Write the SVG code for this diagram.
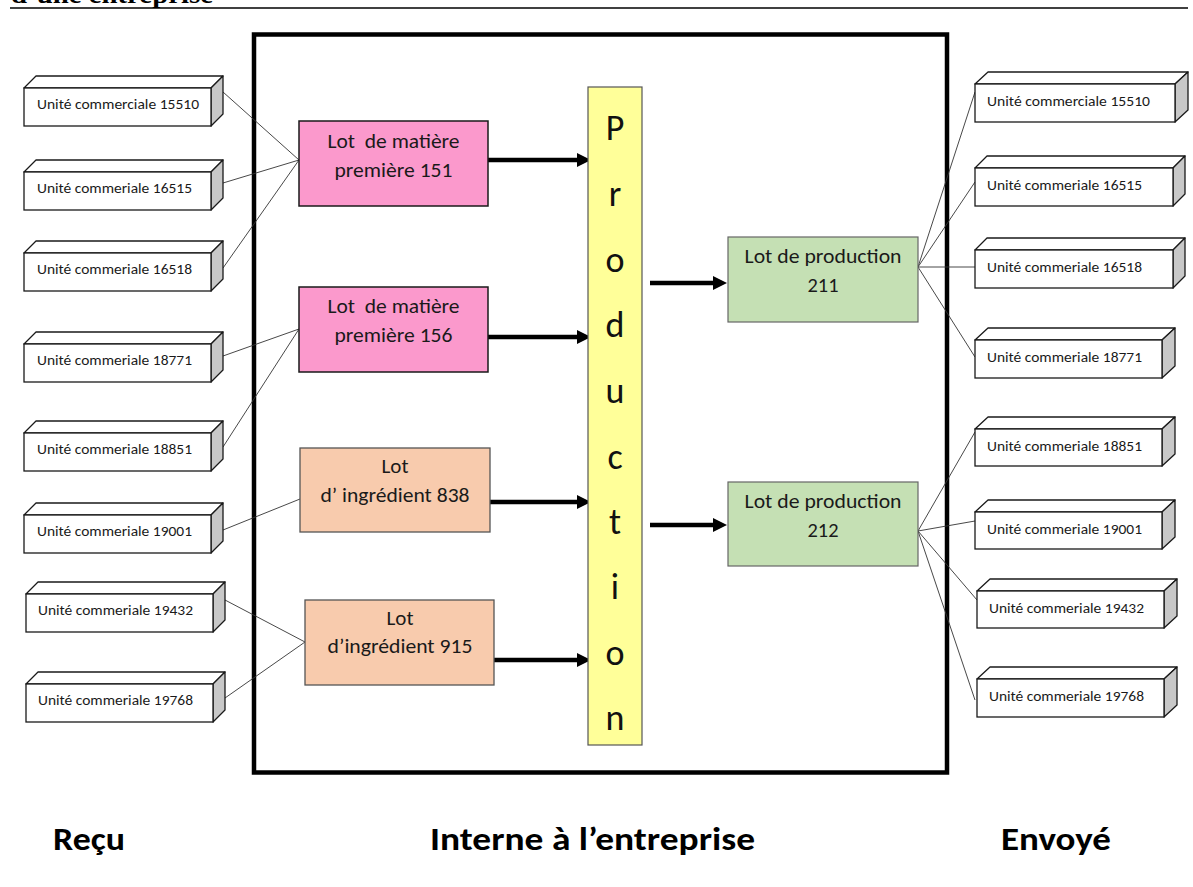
<svg xmlns="http://www.w3.org/2000/svg" width="1193" height="887" viewBox="0 0 1193 887">
<defs>
<style>
.top{fill:#ffffff;stroke:#1a1a1a;stroke-width:1.3;stroke-linejoin:round}
.side{fill:#c8c8c8;stroke:#1a1a1a;stroke-width:1.3;stroke-linejoin:round}
.front{fill:#ffffff;stroke:#1a1a1a;stroke-width:1.3}
.lbl{font-family:Carlito,Lato,"Liberation Sans",sans-serif;font-size:14px;fill:#1a1a1a}
.big{font-family:Carlito,Lato,"Liberation Sans",sans-serif;font-size:20px;fill:#1a1a1a;text-anchor:middle;white-space:pre}
.pink{fill:#fb99cc;stroke:#1a1a1a;stroke-width:1.5}
.orange{fill:#f8cbad;stroke:#555555;stroke-width:1.3}
.green{fill:#c5e0b4;stroke:#666666;stroke-width:1.2}
.link{stroke:#333333;stroke-width:0.9;fill:none}
.arrow{stroke:#000000;stroke-width:4.5;fill:none}
.prod{font-family:Carlito,Lato,"Liberation Sans",sans-serif;font-size:36px;fill:#111111;text-anchor:middle}
.foot{font-family:Carlito,Lato,"Liberation Sans",sans-serif;font-size:33px;font-weight:bold;fill:#000000}
</style>
<marker id="ah" markerUnits="userSpaceOnUse" markerWidth="16" markerHeight="16" refX="2" refY="8" orient="auto">
<path d="M0,1 L14,8 L0,15 z" fill="#000000"/>
</marker>
</defs>
<rect x="0" y="0" width="1193" height="887" fill="#ffffff"/>
<g id="header">
<text x="11" y="3" font-family="Liberation Serif,serif" font-weight="bold" font-size="26" textLength="202" lengthAdjust="spacingAndGlyphs">d’une entreprise</text>
<line x1="10" y1="8" x2="1188" y2="8" stroke="#000000" stroke-width="1.6"/>
</g>
<g id="enterprise">
<rect x="254" y="34.5" width="693" height="738" fill="none" stroke="#000000" stroke-width="4.5"/>
</g>
<g id="connectors">
<line class="link" x1="223" y1="92" x2="299" y2="160"/>
<line class="link" x1="223" y1="183" x2="299" y2="160"/>
<line class="link" x1="223" y1="268" x2="299" y2="160"/>
<line class="link" x1="223" y1="356" x2="299" y2="329"/>
<line class="link" x1="223" y1="447" x2="299" y2="329"/>
<line class="link" x1="223" y1="530" x2="300" y2="499"/>
<line class="link" x1="225" y1="600" x2="305" y2="642"/>
<line class="link" x1="225" y1="698" x2="305" y2="642"/>
<line class="link" x1="918" y1="267" x2="975" y2="92"/>
<line class="link" x1="918" y1="267" x2="975" y2="182"/>
<line class="link" x1="918" y1="267" x2="975" y2="267"/>
<line class="link" x1="918" y1="267" x2="975" y2="357"/>
<line class="link" x1="918" y1="531" x2="975" y2="432"/>
<line class="link" x1="918" y1="531" x2="975" y2="521"/>
<line class="link" x1="918" y1="531" x2="977" y2="600"/>
<line class="link" x1="918" y1="531" x2="975" y2="700"/>
<line class="arrow" x1="488" y1="160" x2="579" y2="160" marker-end="url(#ah)"/>
<line class="arrow" x1="488" y1="337" x2="579" y2="337" marker-end="url(#ah)"/>
<line class="arrow" x1="490" y1="502" x2="579" y2="502" marker-end="url(#ah)"/>
<line class="arrow" x1="494" y1="660" x2="579" y2="660" marker-end="url(#ah)"/>
<line class="arrow" x1="650" y1="283" x2="715" y2="283" marker-end="url(#ah)"/>
<line class="arrow" x1="650" y1="525" x2="715" y2="525" marker-end="url(#ah)"/>
</g>
<g id="recu-15510">
<polygon class="top" points="24,88 36,76 223,76 211,88"/>
<polygon class="side" points="211,88 223,76 223,114 211,126"/>
<rect class="front" x="24" y="88" width="187" height="38"/>
<text class="lbl" x="37" y="109" textLength="162" lengthAdjust="spacingAndGlyphs">Unité commerciale 15510</text>
</g>
<g id="recu-16515">
<polygon class="top" points="24,172 36,160 223,160 211,172"/>
<polygon class="side" points="211,172 223,160 223,198 211,210"/>
<rect class="front" x="24" y="172" width="187" height="38"/>
<text class="lbl" x="37" y="193" textLength="155" lengthAdjust="spacingAndGlyphs">Unité commeriale 16515</text>
</g>
<g id="recu-16518">
<polygon class="top" points="24,253 36,241 223,241 211,253"/>
<polygon class="side" points="211,253 223,241 223,279 211,291"/>
<rect class="front" x="24" y="253" width="187" height="38"/>
<text class="lbl" x="37" y="274" textLength="155" lengthAdjust="spacingAndGlyphs">Unité commeriale 16518</text>
</g>
<g id="recu-18771">
<polygon class="top" points="24,344 36,332 223,332 211,344"/>
<polygon class="side" points="211,344 223,332 223,370 211,382"/>
<rect class="front" x="24" y="344" width="187" height="38"/>
<text class="lbl" x="37" y="365" textLength="155" lengthAdjust="spacingAndGlyphs">Unité commeriale 18771</text>
</g>
<g id="recu-18851">
<polygon class="top" points="24,433 36,421 223,421 211,433"/>
<polygon class="side" points="211,433 223,421 223,459 211,471"/>
<rect class="front" x="24" y="433" width="187" height="38"/>
<text class="lbl" x="37" y="454" textLength="155" lengthAdjust="spacingAndGlyphs">Unité commeriale 18851</text>
</g>
<g id="recu-19001">
<polygon class="top" points="24,515 36,503 223,503 211,515"/>
<polygon class="side" points="211,515 223,503 223,541 211,553"/>
<rect class="front" x="24" y="515" width="187" height="38"/>
<text class="lbl" x="37" y="536" textLength="155" lengthAdjust="spacingAndGlyphs">Unité commeriale 19001</text>
</g>
<g id="recu-19432">
<polygon class="top" points="26,594 38,582 225,582 213,594"/>
<polygon class="side" points="213,594 225,582 225,620 213,632"/>
<rect class="front" x="26" y="594" width="187" height="38"/>
<text class="lbl" x="38" y="615" textLength="155" lengthAdjust="spacingAndGlyphs">Unité commeriale 19432</text>
</g>
<g id="recu-19768">
<polygon class="top" points="26,684 38,672 225,672 213,684"/>
<polygon class="side" points="213,684 225,672 225,710 213,722"/>
<rect class="front" x="26" y="684" width="187" height="38"/>
<text class="lbl" x="38" y="705" textLength="155" lengthAdjust="spacingAndGlyphs">Unité commeriale 19768</text>
</g>
<g id="lot-mp-151">
<rect class="pink" x="299" y="121" width="189" height="85"/>
<text class="big" x="393.5" y="148" textLength="132" lengthAdjust="spacingAndGlyphs">Lot  de matière</text>
<text class="big" x="393.5" y="177" textLength="118" lengthAdjust="spacingAndGlyphs">première 151</text>
</g>
<g id="lot-mp-156">
<rect class="pink" x="299" y="287" width="189" height="85"/>
<text class="big" x="393.5" y="313" textLength="132" lengthAdjust="spacingAndGlyphs">Lot  de matière</text>
<text class="big" x="393.5" y="342" textLength="118" lengthAdjust="spacingAndGlyphs">première 156</text>
</g>
<g id="lot-ing-838">
<rect class="orange" x="300" y="448" width="190" height="84"/>
<text class="big" x="395" y="473" textLength="27" lengthAdjust="spacingAndGlyphs">Lot</text>
<text class="big" x="395" y="502" textLength="149" lengthAdjust="spacingAndGlyphs">d’ ingrédient 838</text>
</g>
<g id="lot-ing-915">
<rect class="orange" x="305" y="600" width="189" height="85"/>
<text class="big" x="400" y="625" textLength="27" lengthAdjust="spacingAndGlyphs">Lot</text>
<text class="big" x="400" y="653" textLength="145" lengthAdjust="spacingAndGlyphs">d’ingrédient 915</text>
</g>
<g id="production">
<rect x="588" y="87" width="54" height="658" fill="#ffff99" stroke="#555555" stroke-width="1.2"/>
<text class="prod" x="615" y="140">P</text>
<text class="prod" x="615" y="206">r</text>
<text class="prod" x="615" y="272">o</text>
<text class="prod" x="615" y="337">d</text>
<text class="prod" x="615" y="403">u</text>
<text class="prod" x="615" y="469">c</text>
<text class="prod" x="615" y="534">t</text>
<text class="prod" x="615" y="599">i</text>
<text class="prod" x="615" y="665">o</text>
<text class="prod" x="615" y="730">n</text>
</g>
<g id="lot-prod-211">
<rect class="green" x="728" y="237" width="190" height="85"/>
<text class="big" x="823" y="263" textLength="157" lengthAdjust="spacingAndGlyphs">Lot de production</text>
<text class="big" x="823" y="292" textLength="31" lengthAdjust="spacingAndGlyphs">211</text>
</g>
<g id="lot-prod-212">
<rect class="green" x="728" y="482" width="190" height="84"/>
<text class="big" x="823" y="508" textLength="157" lengthAdjust="spacingAndGlyphs">Lot de production</text>
<text class="big" x="823" y="537" textLength="31" lengthAdjust="spacingAndGlyphs">212</text>
</g>
<g id="envoye-15510">
<polygon class="top" points="975,84 988,72 1188,72 1175,84"/>
<polygon class="side" points="1175,84 1188,72 1188,110 1175,122"/>
<rect class="front" x="975" y="84" width="200" height="38"/>
<text class="lbl" x="987" y="106" textLength="163" lengthAdjust="spacingAndGlyphs">Unité commerciale 15510</text>
</g>
<g id="envoye-16515">
<polygon class="top" points="975,168 987,156 1185,156 1173,168"/>
<polygon class="side" points="1173,168 1185,156 1185,194 1173,206"/>
<rect class="front" x="975" y="168" width="198" height="38"/>
<text class="lbl" x="987" y="190" textLength="155" lengthAdjust="spacingAndGlyphs">Unité commeriale 16515</text>
</g>
<g id="envoye-16518">
<polygon class="top" points="975,250 987,238 1185,238 1173,250"/>
<polygon class="side" points="1173,250 1185,238 1185,276 1173,288"/>
<rect class="front" x="975" y="250" width="198" height="38"/>
<text class="lbl" x="987" y="272" textLength="155" lengthAdjust="spacingAndGlyphs">Unité commeriale 16518</text>
</g>
<g id="envoye-18771">
<polygon class="top" points="975,340 988,328 1175,328 1162,340"/>
<polygon class="side" points="1162,340 1175,328 1175,366 1162,378"/>
<rect class="front" x="975" y="340" width="187" height="38"/>
<text class="lbl" x="987" y="362" textLength="155" lengthAdjust="spacingAndGlyphs">Unité commeriale 18771</text>
</g>
<g id="envoye-18851">
<polygon class="top" points="975,429 988,417 1175,417 1162,429"/>
<polygon class="side" points="1162,429 1175,417 1175,454 1162,466"/>
<rect class="front" x="975" y="429" width="187" height="37"/>
<text class="lbl" x="987" y="451" textLength="155" lengthAdjust="spacingAndGlyphs">Unité commeriale 18851</text>
</g>
<g id="envoye-19001">
<polygon class="top" points="975,512 988,500 1175,500 1162,512"/>
<polygon class="side" points="1162,512 1175,500 1175,537 1162,549"/>
<rect class="front" x="975" y="512" width="187" height="37"/>
<text class="lbl" x="987" y="534" textLength="155" lengthAdjust="spacingAndGlyphs">Unité commeriale 19001</text>
</g>
<g id="envoye-19432">
<polygon class="top" points="977,591 990,579 1177,579 1164,591"/>
<polygon class="side" points="1164,591 1177,579 1177,616 1164,628"/>
<rect class="front" x="977" y="591" width="187" height="37"/>
<text class="lbl" x="989" y="613" textLength="155" lengthAdjust="spacingAndGlyphs">Unité commeriale 19432</text>
</g>
<g id="envoye-19768">
<polygon class="top" points="977,679 990,667 1177,667 1164,679"/>
<polygon class="side" points="1164,679 1177,667 1177,705 1164,717"/>
<rect class="front" x="977" y="679" width="187" height="38"/>
<text class="lbl" x="989" y="701" textLength="155" lengthAdjust="spacingAndGlyphs">Unité commeriale 19768</text>
</g>
<g id="footer">
<text class="foot" x="53" y="850" textLength="72" lengthAdjust="spacingAndGlyphs">Reçu</text>
<text class="foot" x="430" y="850" textLength="325" lengthAdjust="spacingAndGlyphs">Interne à l’entreprise</text>
<text class="foot" x="1001" y="850" textLength="110" lengthAdjust="spacingAndGlyphs">Envoyé</text>
</g>
</svg>
